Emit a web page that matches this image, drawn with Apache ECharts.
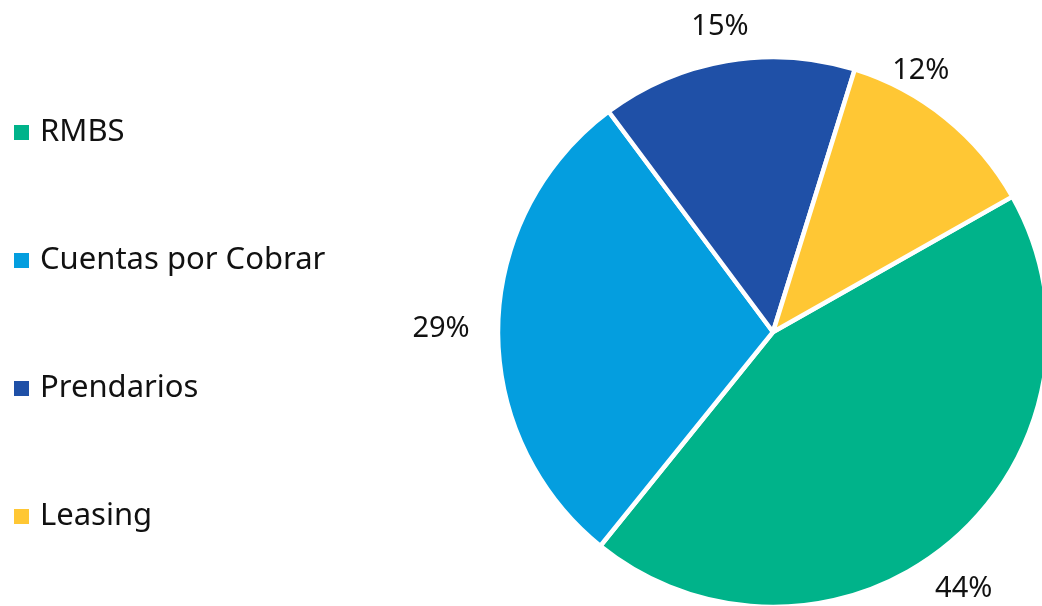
<!DOCTYPE html>
<html>
<head>
<meta charset="utf-8">
<script src="https://cdn.jsdelivr.net/npm/echarts@6/dist/echarts.min.js"></script>
<style>
  html, body { margin: 0; padding: 0; background: #ffffff; }
  #chart { width: 1042px; height: 606px; }
</style>
</head>
<body>
<div id="chart"></div>
<script>
// Composition of the portfolio by asset type (percent)
const categories = ['RMBS', 'Cuentas por Cobrar', 'Prendarios', 'Leasing'];
const shares = [44, 29, 15, 12];
const colors = ['#00B38A', '#049EDF', '#1F50A7', '#FFC734'];

// small per-label nudges (px) applied after the default outside placement
const labelNudge = [[-13, 16], [-17, 3], [0, 5], [-50, -16]];

const chart = echarts.init(document.getElementById('chart'), null, { renderer: 'canvas' });

chart.setOption({
  animation: false,
  backgroundColor: '#ffffff',
  color: colors,
  legend: {
    orient: 'vertical',
    left: 7,
    top: 112,
    icon: 'rect',
    itemWidth: 17,
    itemHeight: 17,
    itemGap: 97,
    selectedMode: false,
    data: categories,
    textStyle: {
      fontFamily: 'Noto Sans',
      fontSize: 31,
      lineHeight: 30,
      color: '#111111',
      padding: [0, 0, 0, 5]
    }
  },
  series: [{
    type: 'pie',
    center: [773, 332],
    radius: 275,
    startAngle: 29.5,
    clockwise: true,
    avoidLabelOverlap: false,
    itemStyle: { borderColor: '#ffffff', borderWidth: 4.5 },
    label: {
      show: true,
      position: 'outside',
      formatter: '{c}%',
      fontFamily: 'Noto Sans',
      fontSize: 29,
      color: '#111111',
      distanceToLabelLine: 0
    },
    labelLine: { show: false, length: 40, length2: 0 },
    labelLayout: function (params) {
      const n = labelNudge[params.dataIndex] || [0, 0];
      return { align: 'center', verticalAlign: 'middle', dx: n[0], dy: n[1] };
    },
    emphasis: { disabled: true },
    data: categories.map((name, i) => ({ name: name, value: shares[i] }))
  }]
});
</script>
</body>
</html>
